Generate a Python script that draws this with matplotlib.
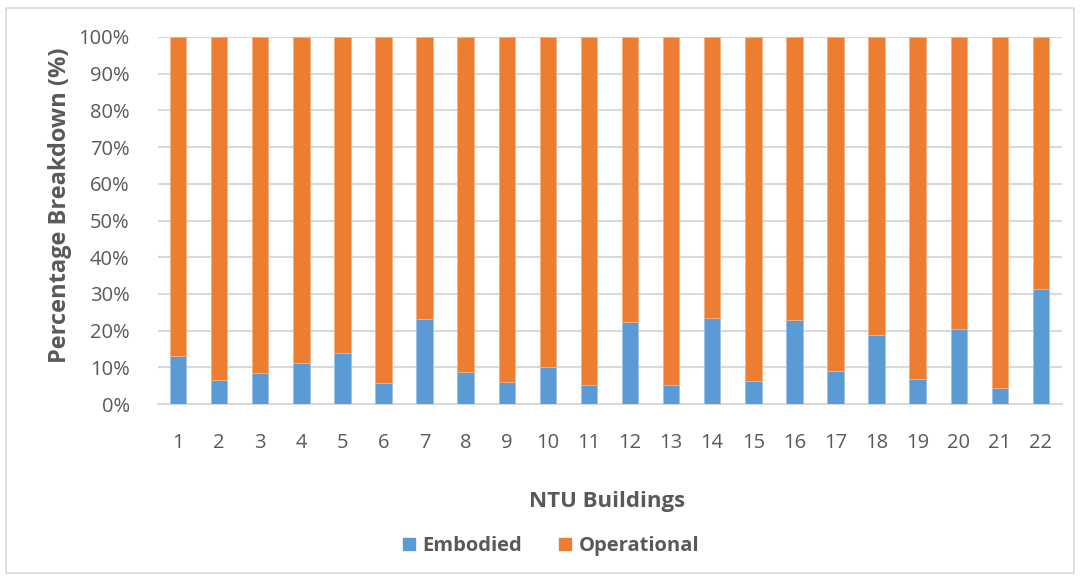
import matplotlib
matplotlib.use("Agg")
import matplotlib.pyplot as plt
from matplotlib.patches import Rectangle

buildings = [str(i) for i in range(1, 23)]
embodied = [13.1, 6.6, 8.4, 11.3, 13.9, 5.7, 23.2, 8.7, 6.0, 10.2, 5.3,
            22.4, 5.3, 23.5, 6.4, 22.8, 8.9, 18.8, 6.8, 20.5, 4.4, 31.3]
operational = [100 - e for e in embodied]
yticks = list(range(0, 101, 10))

plt.rcParams['font.family'] = ['Open Sans', 'DejaVu Sans']
TXT = '#595959'
BLUE = '#5B9BD5'
ORANGE = '#ED7D31'

fig = plt.figure(figsize=(10.81, 5.80), dpi=100)
ax = fig.add_axes([157.5 / 1081, 1 - 404 / 580, (1061.5 - 157.5) / 1081, (404 - 37) / 580])

x = list(range(1, len(buildings) + 1))
ax.bar(x, embodied, width=0.4, color=BLUE, edgecolor='#9DC3E6', linewidth=0.6, zorder=3)
ax.bar(x, operational, width=0.4, bottom=embodied, color=ORANGE, edgecolor='#F4B183', linewidth=0.6, zorder=3)

ax.set_xlim(0.5, len(buildings) + 0.5)
ax.set_ylim(0, 100)
ax.set_yticks(yticks)
ax.set_yticklabels([f"{t}%" for t in yticks])
ax.set_xticks(x)
ax.set_xticklabels(buildings)
ax.tick_params(axis='both', length=0, labelsize=14.5, colors=TXT)
ax.tick_params(axis='y', pad=20)
ax.tick_params(axis='x', pad=21)
ax.grid(axis='y', color='#D9D9D9', linewidth=1.5, zorder=0)
for s in ['top', 'right', 'left']:
    ax.spines[s].set_visible(False)
ax.spines['bottom'].set_color('#D9D9D9')
ax.spines['bottom'].set_linewidth(1.5)

fig.text(60 / 1081, 1 - 205 / 580, 'Percentage Breakdown (%)', fontsize=17, fontweight='bold',
         color=TXT, ha='center', va='center', rotation=90)
fig.text(607 / 1081, 1 - 502 / 580, 'NTU Buildings', fontsize=16, fontweight='bold',
         color=TXT, ha='center', va='center')

# legend
handles = [Rectangle((0, 0), 1, 1, color=BLUE), Rectangle((0, 0), 1, 1, color=ORANGE)]
leg = fig.legend(handles, ['Embodied', 'Operational'], loc='center',
                 bbox_to_anchor=(551 / 1081, 1 - 546 / 580), ncol=2, frameon=False,
                 prop={'size': 14.5, 'weight': 'bold'}, handlelength=0.6, handleheight=0.6,
                 columnspacing=1.8, handletextpad=0.4)
for t in leg.get_texts():
    t.set_color(TXT)

# outer border
fig.patches.append(Rectangle((6 / 1081, 1 - 573 / 580), (1074 - 6) / 1081, (573 - 8) / 580,
                             transform=fig.transFigure, fill=False, edgecolor='#D9D9D9',
                             linewidth=1.2))

fig.savefig('out.png', dpi=100)
